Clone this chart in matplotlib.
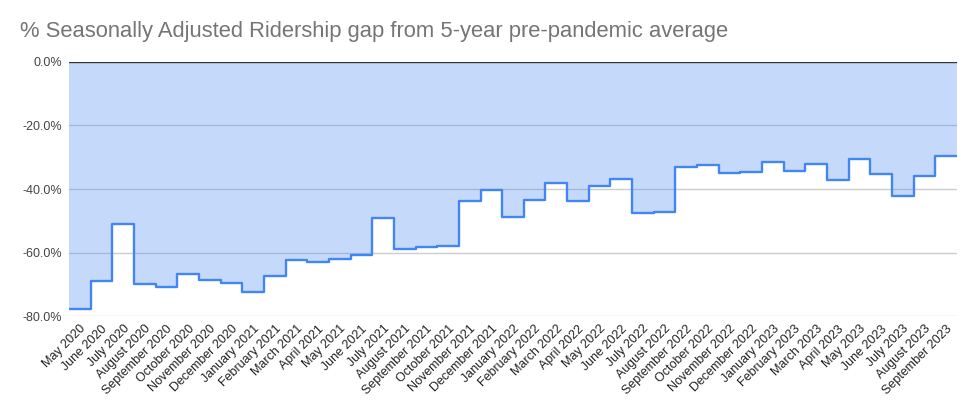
import matplotlib
matplotlib.use("Agg")
import matplotlib.pyplot as plt
import numpy as np

plt.rcParams["font.family"] = ["Liberation Sans", "DejaVu Sans"]

# monthly ridership gap (%) vs 5-year pre-pandemic average
months = [
    "May 2020", "June 2020", "July 2020", "August 2020", "September 2020",
    "October 2020", "November 2020", "December 2020", "January 2021",
    "February 2021", "March 2021", "April 2021", "May 2021", "June 2021",
    "July 2021", "August 2021", "September 2021", "October 2021",
    "November 2021", "December 2021", "January 2022", "February 2022",
    "March 2022", "April 2022", "May 2022", "June 2022", "July 2022",
    "August 2022", "September 2022", "October 2022", "November 2022",
    "December 2022", "January 2023", "February 2023", "March 2023",
    "April 2023", "May 2023", "June 2023", "July 2023", "August 2023",
    "September 2023",
]
gap = [
    -77.7, -69.0, -51.0, -69.8, -70.8, -66.8, -68.6, -69.7, -72.5, -67.4,
    -62.4, -62.9, -61.9, -60.8, -49.2, -58.8, -58.4, -58.1, -43.7, -40.3,
    -48.9, -43.6, -38.1, -43.9, -38.9, -36.9, -47.5, -47.3, -33.1, -32.3,
    -34.9, -34.6, -31.6, -34.4, -32.1, -37.3, -30.4, -35.3, -42.1, -35.9,
    -29.7,
]
yticks = [0, -20, -40, -60, -80]

blue = "#4285f4"

fig = plt.figure(figsize=(9.78, 4.15), dpi=100)
ax = fig.add_axes([69 / 978, 1 - 316 / 415, (957 - 69) / 978, (316 - 62) / 415])

edges = np.arange(len(gap) + 1)
ax.stairs(gap, edges, baseline=0, fill=True, color=blue, alpha=0.3, lw=0, zorder=2)
ax.stairs(gap, edges, baseline=None, color=blue, lw=1.7, zorder=3,
          joinstyle="round", capstyle="round")

ax.set_xlim(0, len(gap))
ax.set_ylim(-80, 0)
for v in yticks:
    if v == 0:
        ax.axhline(v, color="#333333", lw=1.0, zorder=4)
    else:
        ax.axhline(v, color="#cccccc", lw=1.0, zorder=1)

ax.set_yticks(yticks)
ax.set_yticklabels([f"{v:.1f}%" for v in yticks], fontsize=9, color="#444444")
ax.set_xticks(edges[:-1] + 0.5)
ax.set_xticklabels(months, rotation=45, ha="right", va="top",
                   rotation_mode="anchor", fontsize=9, color="#222222")
ax.tick_params(length=0, pad=5)
for s in ax.spines.values():
    s.set_visible(False)

fig.text(20 / 978, 1 - 32 / 415, "% Seasonally Adjusted Ridership gap from 5-year pre-pandemic average",
         fontsize=15.8, color="#757575", va="center", ha="left")

fig.savefig("out.png", dpi=100)
